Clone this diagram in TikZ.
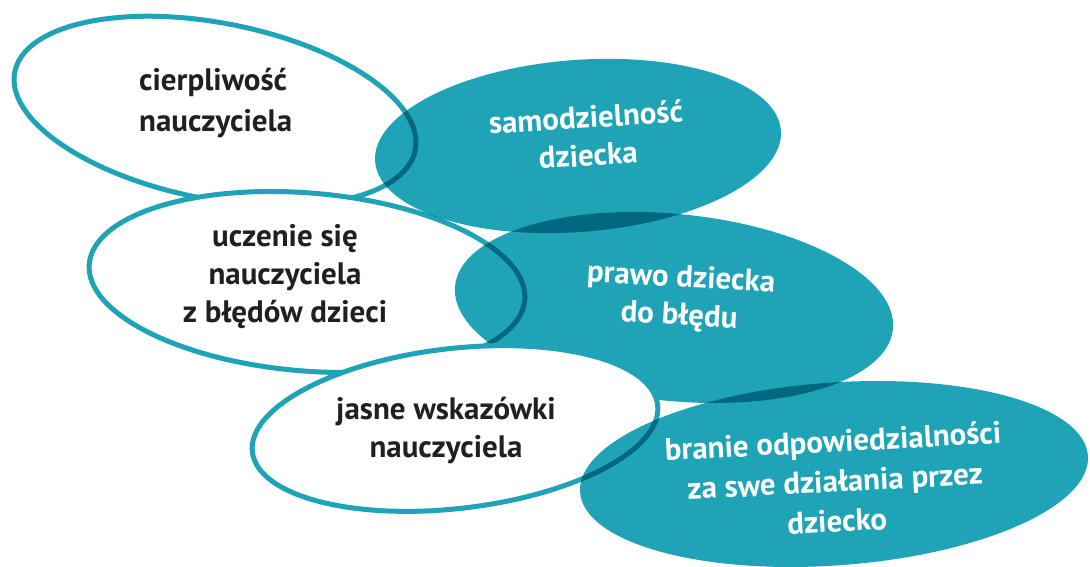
\documentclass[tikz,border=0pt]{standalone}
\usepackage{fontspec}
\setmainfont{PT Sans}
\definecolor{tealA}{RGB}{31,163,183}
\definecolor{tealD}{RGB}{2,104,128}
\definecolor{ink}{RGB}{35,31,32}
\newcommand\shpA[1]{\path[#1] (215,456) ellipse [x radius=204, y radius=88, rotate=-11];}
\newcommand\shpB[1]{\path[#1] (307,285) ellipse [x radius=218.5, y radius=89, rotate=-4.7];}
\newcommand\shpC[1]{\path[#1] (455,138.5) ellipse [x radius=204, y radius=80, rotate=6.6];}
\newcommand\shpS[1]{\path[#1] (578,421) ellipse [x radius=203.5, y radius=86, rotate=4.4];}
\newcommand\shpP[1]{\path[#1] (674,259.5) ellipse [x radius=220, y radius=93.5, rotate=-5.6];}
\newcommand\shpQ[1]{\path[#1] (834,93) ellipse [x radius=254.6, y radius=91.4, rotate=4.1];}
\begin{document}
\begin{tikzpicture}[x=1pt,y=1pt,
  lbl/.style={font=\bfseries\fontsize{31}{38}\selectfont, align=center, inner sep=0pt},
  darktext/.style={lbl, text=ink},
  lighttext/.style={lbl, text=white},
  wring/.style={draw=tealA, line width=5pt, fill=white},
  dring/.style={draw=tealD, line width=5pt},
]
\useasboundingbox[fill=white] (0,0) rectangle (1090,567);
\shpA{wring}
\shpB{wring}
\shpS{fill=tealA}
\begin{scope}
  \shpS{clip}
  \shpA{dring}
  \shpB{dring}
\end{scope}
\shpP{fill=tealA}
\begin{scope}
  \shpP{clip}
  \shpS{fill=tealD}
  \shpB{dring}
\end{scope}
\shpC{wring}
\shpQ{fill=tealA}
\begin{scope}
  \shpQ{clip}
  \shpP{fill=tealD}
  \shpC{dring}
\end{scope}
\node[darktext, align=left, anchor=west, font=\bfseries\fontsize{31}{41}\selectfont] (t1) at (139,464) {cierpliwość\\nauczyciela};
\node[darktext] (t2) at (285,290) {uczenie się\\nauczyciela\\z błędów dzieci};
\node[darktext] (t3) at (446,136) {jasne wskazówki\\nauczyciela};
\node[lighttext, rotate=3.5] (t4) at (587,431) {samodzielność\\dziecka};
\node[lighttext, rotate=-3] (t5) at (680,269) {prawo dziecka\\do błędu};
\node[lighttext, rotate=3, font=\bfseries\fontsize{31}{40}\selectfont] (t6) at (835,86) {branie odpowiedzialności\\za swe działania przez\\dziecko};
\end{tikzpicture}
\end{document}
